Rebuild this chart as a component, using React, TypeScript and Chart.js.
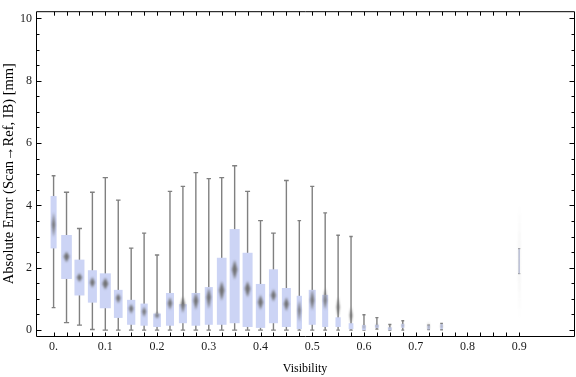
import React, { useEffect, useRef } from 'react';
import { Chart, registerables } from 'chart.js';
Chart.register(...registerables);

// Visibility bins (categories)
const bins = [0, 0.025, 0.05, 0.075, 0.1, 0.125, 0.15, 0.175, 0.2, 0.225, 0.25, 0.275, 0.3, 0.325, 0.35, 0.375, 0.4, 0.425, 0.45, 0.475, 0.5, 0.525, 0.55, 0.575, 0.6, 0.625, 0.65, 0.675, 0.7, 0.725, 0.75, 0.775, 0.8, 0.825, 0.85, 0.875, 0.9];
const minV = [0.72, 0.24, 0.16, 0.02, 0, 0, 0, 0, 0, 0, 0, 0, 0, 0, 0, 0, 0, 0, 0, 0, 0, 0, 0, 0, 0, 0.03, 0, 0, null, 0.02, 0.01, null, null, null, null, null, 1.81];
const q1 = [2.62, 1.64, 1.11, 0.88, 0.70, 0.39, 0.17, 0.14, 0.10, 0.14, 0.22, 0.14, 0.17, 0.17, 0.22, 0.10, 0.07, 0.22, 0.10, 0.03, 0.17, 0.10, 0.10, 0.03, 0.0, 0.07, 0.0, 0.07, null, 0.02, 0.03, null, null, null, null, null, 1.81];
const mean = [3.38, 2.36, 1.69, 1.53, 1.49, 1.03, 0.69, 0.60, 0.47, 0.86, 0.82, 0.94, 1.05, 1.28, 1.94, 1.33, 0.89, 1.12, 0.84, 0.63, 0.96, 0.96, 0.73, 0.47, 0.10, 0.13, 0.05, 0.15, null, 0.10, 0.12, null, null, null, null, null, 2.21];
const q3 = [4.30, 3.05, 2.26, 1.92, 1.82, 1.29, 0.97, 0.85, 0.53, 1.19, 0.83, 1.19, 1.38, 2.32, 3.24, 2.48, 1.48, 1.95, 1.35, 1.10, 1.29, 1.13, 0.41, 0.22, 0.16, 0.17, 0.09, 0.20, null, 0.15, 0.19, null, null, null, null, null, 2.61];
const maxV = [4.95, 4.42, 3.26, 4.42, 4.89, 4.17, 2.63, 3.11, 2.41, 4.45, 4.61, 5.05, 4.86, 4.89, 5.27, 4.45, 3.51, 3.11, 4.80, 3.51, 4.61, 3.76, 3.04, 3.00, 0.49, 0.40, 0.18, 0.30, null, 0.16, 0.21, null, null, null, null, null, 2.61];
const ciLo = [2.98, 2.18, 1.54, 1.36, 1.30, 0.86, 0.52, 0.42, 0.37, 0.65, 0.55, 0.65, 0.68, 0.94, 1.62, 1.05, 0.65, 0.92, 0.61, 0.26, 0.63, 0.65, 0.42, 0.21, 0.05, 0.08, 0.02, 0.09, null, 0.0, 0.06, null, null, null, null, null, 0.42];
const ciHi = [3.77, 2.51, 1.82, 1.70, 1.68, 1.17, 0.84, 0.75, 0.58, 1.05, 1.07, 1.20, 1.36, 1.57, 2.25, 1.57, 1.13, 1.31, 1.05, 0.96, 1.31, 1.34, 1.05, 0.73, 0.16, 0.19, 0.09, 0.20, null, 0.25, 0.19, null, null, null, null, null, 4.0];
// relative sample weight (box width share)
const weight = [0.55, 0.97, 0.91, 0.82, 1.0, 0.79, 0.75, 0.66, 0.70, 0.73, 0.73, 0.79, 0.73, 0.88, 0.91, 0.91, 0.85, 0.82, 0.82, 0.48, 0.64, 0.55, 0.48, 0.43, 0.34, 0.34, 0.34, 0.27, null, 0.21, 0.21, null, null, null, null, null, 0.09];

const xTickValues = [0, 0.1, 0.2, 0.3, 0.4, 0.5, 0.6, 0.7, 0.8, 0.9];
const xTickLabels = ['0.', '0.1', '0.2', '0.3', '0.4', '0.5', '0.6', '0.7', '0.8', '0.9'];
const yTickValues = [0, 2, 4, 6, 8, 10];
const yTickLabels = ['0', '2', '4', '6', '8', '10'];
const yMinorTicks = [0.5, 1, 1.5, 2.5, 3, 3.5, 4.5, 5, 5.5, 6.5, 7, 7.5, 8.5, 9, 9.5];

const FONT = "'Liberation Serif', 'Times New Roman', serif";

const boxPlugin = {
  id: 'boxwhisker',
  beforeDatasetsDraw(chart: any) {
    const { ctx, scales } = chart;
    const xs = scales.x, ys = scales.y;
    const binPx = xs.getPixelForValue(bins[1]) - xs.getPixelForValue(bins[0]);
    const maxW = binPx * 0.85;
    ctx.save();
    for (let i = 0; i < bins.length; i++) {
      if (weight[i] == null) continue;
      const cx = xs.getPixelForValue(bins[i]);
      const w = (weight[i] as number) * maxW;
      const cap = 2 + 0.3 * w;
      const lw = Math.min(1.4, w * 0.6 + 0.3);
      const yMin = ys.getPixelForValue(minV[i]);
      const yMax = ys.getPixelForValue(maxV[i]);
      const yQ1 = ys.getPixelForValue(q1[i]);
      const yQ3 = ys.getPixelForValue(q3[i]);
      ctx.strokeStyle = '#808080';
      ctx.lineWidth = lw;
      ctx.beginPath();
      ctx.moveTo(cx, yMin); ctx.lineTo(cx, yMax);
      ctx.moveTo(cx - cap / 2, yMin); ctx.lineTo(cx + cap / 2, yMin);
      ctx.moveTo(cx - cap / 2, yMax); ctx.lineTo(cx + cap / 2, yMax);
      ctx.stroke();
      ctx.fillStyle = '#ccd4f5';
      ctx.fillRect(cx - w / 2, Math.min(yQ1, yQ3), w, Math.max(Math.abs(yQ1 - yQ3), 1));
    }
    ctx.filter = 'blur(0.8px)';
    for (let i = 0; i < bins.length; i++) {
      if (weight[i] == null) continue;
      const cx = xs.getPixelForValue(bins[i]);
      const w = (weight[i] as number) * maxW;
      const dw = Math.max(w * 0.55, 0.8);
      const yM = ys.getPixelForValue(mean[i]);
      const yLo = ys.getPixelForValue(ciLo[i]);
      const yHi = ys.getPixelForValue(ciHi[i]);
      ctx.fillStyle = (weight[i] as number) < 0.15 ? 'rgba(120,120,120,0.3)' : 'rgba(108,108,108,0.95)';
      ctx.beginPath();
      ctx.moveTo(cx, yHi);
      ctx.lineTo(cx + dw / 2, yM);
      ctx.lineTo(cx, yLo);
      ctx.lineTo(cx - dw / 2, yM);
      ctx.closePath();
      ctx.fill();
    }
    ctx.filter = 'none';
    ctx.restore();
  },
  afterDraw(chart: any) {
    const { ctx, chartArea: a, scales } = chart;
    const xs = scales.x, ys = scales.y;
    ctx.save();
    ctx.strokeStyle = '#000';
    ctx.lineWidth = 1;
    const L = a.left + 0.5, R = a.right + 0.5, T = a.top + 0.5, B = a.bottom + 0.5;
    ctx.beginPath();
    ctx.rect(L, T, R - L, B - T);
    for (const b of bins) {
      const x = Math.round(xs.getPixelForValue(b)) + 0.5;
      ctx.moveTo(x, B); ctx.lineTo(x, B - 4);
      ctx.moveTo(x, T); ctx.lineTo(x, T + 4);
    }
    for (const v of yTickValues) {
      const y = Math.round(ys.getPixelForValue(v)) + 0.5;
      ctx.moveTo(L, y); ctx.lineTo(L + 5, y);
      ctx.moveTo(R, y); ctx.lineTo(R - 5, y);
    }
    for (const v of yMinorTicks) {
      const y = Math.round(ys.getPixelForValue(v)) + 0.5;
      ctx.moveTo(L, y); ctx.lineTo(L + 3, y);
      ctx.moveTo(R, y); ctx.lineTo(R - 3, y);
    }
    ctx.stroke();
    ctx.restore();
  },
};

export default function App() {
  const ref = useRef<HTMLCanvasElement | null>(null);
  useEffect(() => {
    document.body.style.margin = '0';
    const chart = new Chart(ref.current as HTMLCanvasElement, {
      type: 'scatter',
      data: {
        datasets: [{
          data: bins.map((b, i) => ({ x: b, y: mean[i] })).filter(p => p.y != null) as any,
          pointRadius: 0,
          showLine: false,
        }],
      },
      options: {
        responsive: false,
        animation: false,
        events: [],
        layout: { padding: { top: 4, right: 2, left: 0, bottom: 0 } },
        plugins: { legend: { display: false }, tooltip: { enabled: false } },
        scales: {
          x: {
            type: 'linear',
            min: -0.034,
            max: 1.006,
            grid: { display: false, drawTicks: false },
            border: { display: false },
            afterBuildTicks: (s: any) => { s.ticks = xTickValues.map(v => ({ value: v })); },
            afterFit: (s: any) => { s.height = 41; },
            ticks: {
              padding: 4,
              color: '#1a1a1a',
              font: { family: FONT, size: 12 },
              maxRotation: 0,
              autoSkip: false,
              callback: (_v: any, i: number) => xTickLabels[i],
            },
            title: {
              display: true,
              text: 'Visibility',
              color: '#000',
              font: { family: FONT, size: 12 },
              padding: { top: 0, bottom: 1 },
            },
          },
          y: {
            type: 'linear',
            min: -0.19,
            max: 10.23,
            grid: { display: false, drawTicks: false },
            border: { display: false },
            afterBuildTicks: (s: any) => { s.ticks = yTickValues.map(v => ({ value: v })); },
            afterFit: (s: any) => { s.width = 36; },
            ticks: {
              padding: 4,
              color: '#1a1a1a',
              font: { family: FONT, size: 12 },
              autoSkip: false,
              callback: (_v: any, i: number) => yTickLabels[i],
            },
            title: {
              display: true,
              text: 'Absolute Error (Scan\u2192Ref, IB) [mm]',
              color: '#000',
              font: { family: FONT, size: 14.5 },
              padding: { top: 0, bottom: 0 },
            },
          },
        },
      },
      plugins: [boxPlugin],
    });
    return () => chart.destroy();
  }, []);
  return (
    <div style={{ position: 'fixed', left: 0, top: 0, width: 576, height: 377, background: '#fff' }}>
      <canvas ref={ref} width={576} height={377} style={{ width: 576, height: 377, display: 'block' }} />
    </div>
  );
}
